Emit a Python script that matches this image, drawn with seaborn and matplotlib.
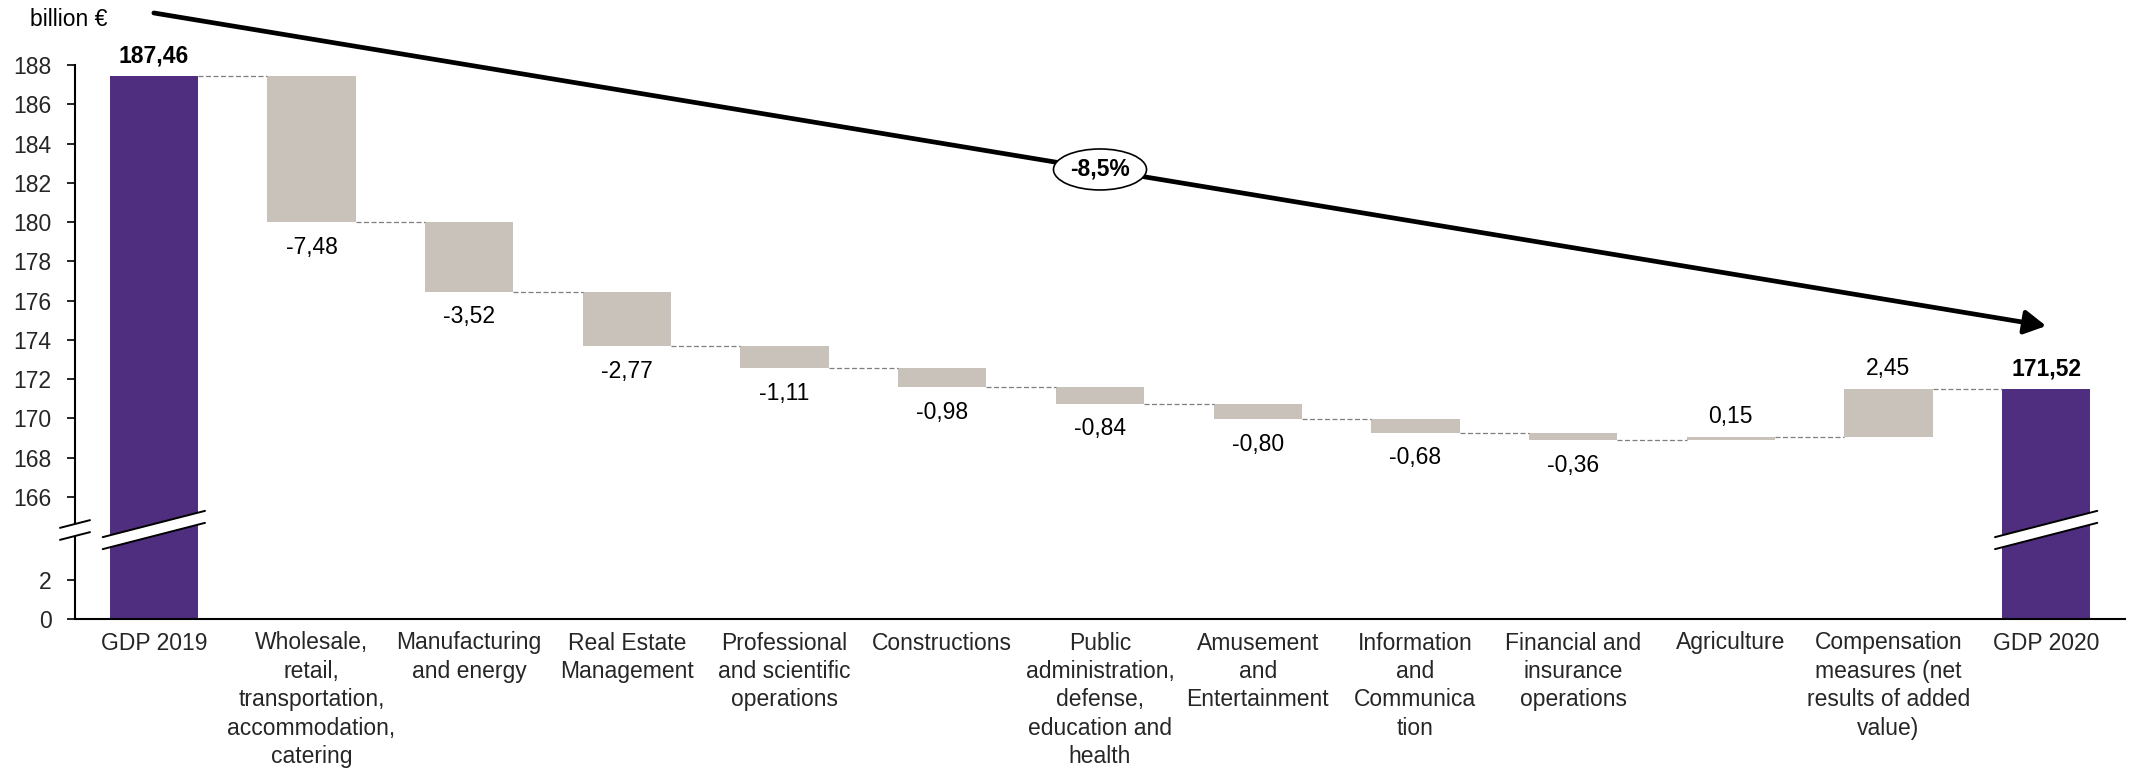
import matplotlib
matplotlib.use("Agg")
import matplotlib.pyplot as plt
from matplotlib.patches import Polygon, Ellipse
from matplotlib.lines import Line2D
import numpy as np
import pandas as pd
import seaborn as sns

# ---- data -------------------------------------------------------------
categories = [
    "GDP 2019",
    "Wholesale,\nretail,\ntransportation,\naccommodation,\ncatering",
    "Manufacturing\nand energy",
    "Real Estate\nManagement",
    "Professional\nand scientific\noperations",
    "Constructions",
    "Public\nadministration,\ndefense,\neducation and\nhealth",
    "Amusement\nand\nEntertainment",
    "Information\nand\nCommunica\ntion",
    "Financial and\ninsurance\noperations",
    "Agriculture",
    "Compensation\nmeasures (net\nresults of added\nvalue)",
    "GDP 2020",
]
values = [187.46, -7.48, -3.52, -2.77, -1.11, -0.98, -0.84, -0.80,
          -0.68, -0.36, 0.15, 2.45, 171.52]
is_total = [True] + [False] * 11 + [True]

upper_ticks = list(range(166, 189, 2))
lower_ticks = [0, 2]
unit_label = "billion €"

PURPLE = "#4F2D7F"
GREY = "#C9C2BB"
FS = 16.5

# ---- waterfall geometry from the values -------------------------------
bases, heights = [], []
running = 0.0
for v, tot in zip(values, is_total):
    if tot:
        bases.append(0.0)
        heights.append(v)
        running = v
    else:
        bases.append(running)
        heights.append(v)
        running += v
levels = [b + h for b, h in zip(bases, heights)]

df = pd.DataFrame({"cat": categories, "base": bases, "height": heights,
                   "total": is_total})
df_tot = df[df["total"]]
df_chg = df[~df["total"]]

# ---- figure -----------------------------------------------------------
sns.set_theme(style="white")
plt.rcParams["font.family"] = ["Liberation Sans", "DejaVu Sans"]
plt.rcParams["text.color"] = "black"

W, H = 2130, 773
fig = plt.figure(figsize=(W / 100, H / 100), dpi=100)
left, right = 75 / W, 2125 / W
y_top, y_join, y_bot = 65, 530, 619
ax_top = fig.add_axes([left, 1 - y_join / H, right - left, (y_join - y_top) / H])
ax_bot = fig.add_axes([left, 1 - y_bot / H, right - left, (y_bot - y_join) / H])

BAR_W = 0.56
for ax in (ax_top, ax_bot):
    sns.barplot(data=df_tot, x="cat", y="height", order=categories,
                color=PURPLE, saturation=1, width=BAR_W, errorbar=None,
                linewidth=0, ax=ax)
    sns.barplot(data=df_chg, x="cat", y="height", order=categories,
                color=GREY, saturation=1, width=BAR_W, errorbar=None,
                linewidth=0, bottom=df_chg["base"].values, ax=ax)
    ax.set_xlim(-0.5, len(categories) - 0.5)
    ax.set_xlabel("")
    ax.set_ylabel("")
    for s in ("top", "right"):
        ax.spines[s].set_visible(False)
    ax.spines["left"].set_color("black")
    ax.spines["left"].set_linewidth(1.5)
    ax.tick_params(axis="y", direction="out", length=6, width=1.2,
                   color="black", labelsize=FS, pad=11, left=True)

ax_top.set_ylim(164.32, 188)
ax_top.set_yticks(upper_ticks)
ax_top.spines["bottom"].set_visible(False)
ax_top.tick_params(axis="x", bottom=False, labelbottom=False)

ax_bot.set_ylim(0, 4.56)
ax_bot.set_yticks(lower_ticks)
ax_bot.spines["bottom"].set_color("black")
ax_bot.spines["bottom"].set_linewidth(1.5)
ax_bot.set_xticks(range(len(categories)))
ax_bot.set_xticklabels(categories, fontsize=FS, linespacing=1.3)
ax_bot.tick_params(axis="x", length=0, pad=9)

# ---- dashed connectors between bars ---------------------------------
for i in range(len(categories) - 1):
    ax_top.plot([i + BAR_W / 2, i + 1 - BAR_W / 2], [levels[i], levels[i]],
                color="#7F7F7F", lw=0.9, ls=(0, (4, 2)), zorder=3)

# ---- value labels -----------------------------------------------------
def fmt(v):
    return f"{v:.2f}".replace(".", ",")

for i, (v, tot) in enumerate(zip(values, is_total)):
    top = max(bases[i], levels[i])
    low = min(bases[i], levels[i])
    if tot:
        ax_top.annotate(fmt(v), (i, top), xytext=(0, 6), textcoords="offset points",
                        ha="center", va="bottom", fontsize=FS, fontweight="bold")
    elif v >= 0:
        ax_top.annotate(fmt(v), (i, top), xytext=(0, 6), textcoords="offset points",
                        ha="center", va="bottom", fontsize=FS)
    else:
        ax_top.annotate(fmt(v), (i, low), xytext=(0, -10), textcoords="offset points",
                        ha="center", va="top", fontsize=FS)

# ---- overall change arrow --------------------------------------------
start_y, end_y = 190.65, 174.71
ax_top.annotate("", xy=(len(categories) - 1, end_y), xytext=(0, start_y),
                annotation_clip=False,
                arrowprops=dict(arrowstyle="-|>,head_length=0.65,head_width=0.36",
                                mutation_scale=20, lw=3.4, color="black",
                                shrinkA=0, shrinkB=0))
pct = (values[-1] / values[0] - 1) * 100
mid_x, mid_y = (len(categories) - 1) / 2, (start_y + end_y) / 2
ax_top.add_patch(Ellipse((mid_x, mid_y), 93 / 157.6, 41 / 19.64, facecolor="white",
                         edgecolor="black", lw=1.2, zorder=5, clip_on=False))
ax_top.text(mid_x, mid_y, f"{pct:.1f}%".replace(".", ","), ha="center",
            va="center", fontsize=FS, fontweight="bold", zorder=6)

# ---- unit label -------------------------------------------------------
fig.text(30 / W, 1 - 19 / H, unit_label, ha="left", va="center", fontsize=FS)

# ---- axis break symbols ----------------------------------------------
to_fig = fig.transFigure.inverted()
cy = (1 - y_join / H) * H
SLOPE, HALF = 0.257, 6


def draw_break(cx, hw):
    xs = np.array([cx - hw, cx + hw])
    up = cy + HALF + SLOPE * (xs - cx)
    lo = cy - HALF + SLOPE * (xs - cx)
    poly = np.array([[xs[0], up[0]], [xs[1], up[1]], [xs[1], lo[1]], [xs[0], lo[0]]])
    fig.add_artist(Polygon(to_fig.transform(poly), closed=True, facecolor="white",
                           edgecolor="none", transform=fig.transFigure, zorder=10))
    for ys in (up, lo):
        pts = to_fig.transform(np.column_stack([xs, ys]))
        fig.add_artist(Line2D(pts[:, 0], pts[:, 1], color="black", lw=1.4,
                              transform=fig.transFigure, zorder=11))


draw_break(left * W, 15)
for i, tot in enumerate(is_total):
    if tot:
        cx = ax_bot.transData.transform((i, 0))[0]
        half = BAR_W / 2 * (ax_bot.transData.transform((1, 0))[0]
                            - ax_bot.transData.transform((0, 0))[0])
        draw_break(cx, half + 7)

fig.savefig("out.png", dpi=100)
